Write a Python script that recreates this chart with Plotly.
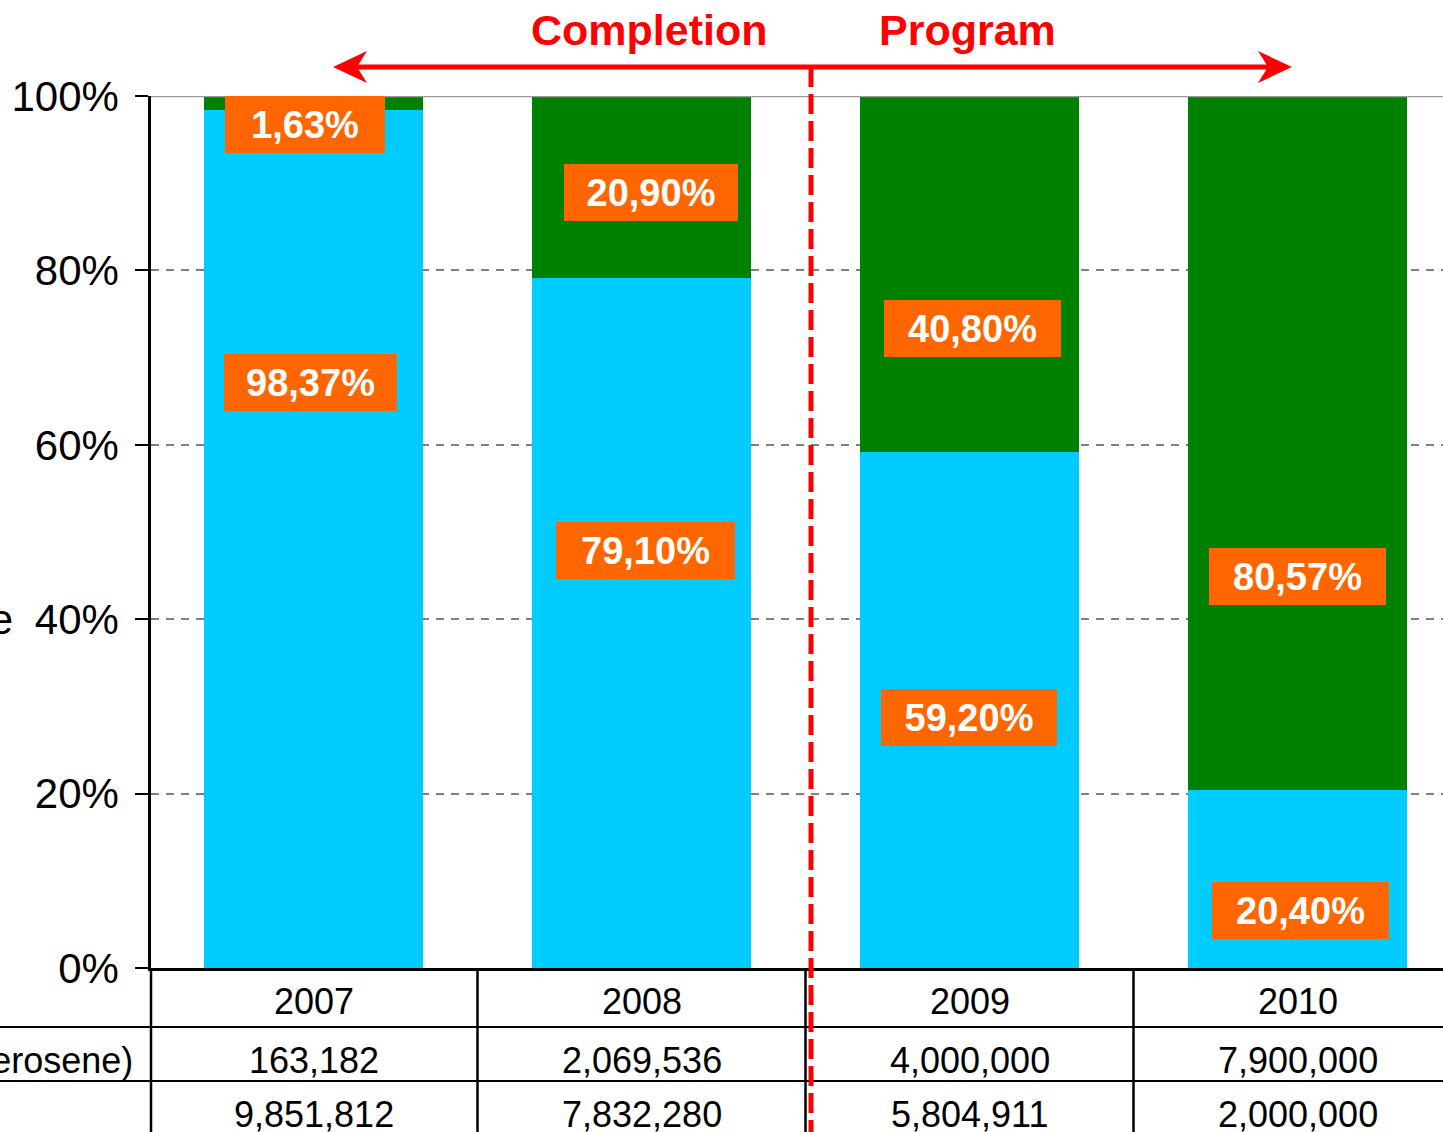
import plotly.graph_objects as go

# Shares of each fuel per year (percent) and volumes for the table below
years = [2007, 2008, 2009, 2010]
share_kerosene = [98.37, 79.10, 59.20, 20.40]
share_lpg = [1.63, 20.90, 40.80, 80.57]
lpg_volume = [163182, 2069536, 4000000, 7900000]
kerosene_volume = [9851812, 7832280, 5804911, 2000000]
row_label_lpg = "LPG (equivalent kerosene)"
y_ticks = [0, 20, 40, 60, 80, 100]

# label box placement (percent position, pixel shift, box width)
lbl_y_kero = [67.2, 47.9, 28.7, 6.65]
lbl_y_lpg = [96.73, 88.9, 73.3, 44.9]
lbl_dx_kero = [-3, 4, -0.5, 3]
lbl_dx_lpg = [-8.5, 9.5, 3, 0]
lbl_w_kero = [173, 179, 176, 177]
lbl_w_lpg = [160, 174, 177, 177]

BLUE = "#00CCFF"
GREEN = "#008000"
ORANGE = "#FF6600"
RED = "#FF0000"
FONT = "Liberation Sans, Arial, Helvetica, sans-serif"

W, H = 1443, 1132
ML, MT, MB = 151, 96, 164
PLOT_W = W - ML
PLOT_H = H - MT - MB
STEP = 328.0                      # px per year
X0 = years[0] - 0.5 + 1.5 / STEP
X1 = X0 + PLOT_W / STEP


def py(p):
    """page pixel row -> paper y"""
    return (H - MB - p) / PLOT_H


def px(p):
    """page pixel column -> paper x"""
    return (p - ML) / PLOT_W


def xd(p):
    """page pixel column -> x data value"""
    return X0 + (p - ML) / STEP


fig = go.Figure()
fig.add_trace(go.Bar(x=years, y=share_kerosene, marker_color=BLUE,
                     marker_line_width=0, width=0.668, name="Kerosene"))
fig.add_trace(go.Bar(x=years, y=share_lpg, marker_color=GREEN,
                     marker_line_width=0, width=0.668, name="LPG"))


def pct(v):
    return f"{v:.2f}".replace(".", ",") + "%"


annotations = []
for i, yr in enumerate(years):
    for val, ly, dx, bw in ((share_kerosene[i], lbl_y_kero[i], lbl_dx_kero[i], lbl_w_kero[i]),
                            (share_lpg[i], lbl_y_lpg[i], lbl_dx_lpg[i], lbl_w_lpg[i])):
        annotations.append(dict(
            x=yr, y=ly, xref="x", yref="y", xshift=dx, text=f"<b>{pct(val)}</b>",
            showarrow=False, bgcolor=ORANGE, borderwidth=0, borderpad=0,
            width=bw, height=57, align="center", valign="middle",
            xanchor="center", yanchor="middle",
            font=dict(family=FONT, size=38, color="white")))

# table: year header and two value rows
TABLE_FONT = dict(family=FONT, size=36, color="black")
for i, yr in enumerate(years):
    for row_y, txt in ((1001, str(yr)),
                       (1060, f"{lpg_volume[i]:,}"),
                       (1114, f"{kerosene_volume[i]:,}")):
        annotations.append(dict(x=yr, y=py(row_y), xref="x", yref="paper", text=txt,
                                xanchor="center", yanchor="middle",
                                showarrow=False, font=TABLE_FONT))
annotations.append(dict(x=px(135), y=py(1060), xref="paper", yref="paper", text=row_label_lpg,
                        xanchor="right", yanchor="middle", showarrow=False, font=TABLE_FONT))
# y axis caption
annotations.append(dict(x=px(15), y=40, xref="paper", yref="y", text="Share",
                        xanchor="right", yanchor="middle", showarrow=False,
                        font=dict(family=FONT, size=42, color="black")))
# programme heading
for cx, txt in ((649, "Completion"), (967.5, "Program")):
    annotations.append(dict(x=xd(cx), y=py(30), xref="x", yref="paper", text=f"<b>{txt}</b>",
                            xanchor="center", yanchor="middle", showarrow=False,
                            font=dict(family=FONT, size=43, color=RED)))

shapes = []
# solid top border at 100%
shapes.append(dict(type="line", xref="paper", yref="y", x0=0, x1=1, y0=100, y1=100,
                   line=dict(color="#9A9A9A", width=2.5)))
# table grid
for yrow in (1027, 1081):
    shapes.append(dict(type="line", xref="paper", yref="paper", x0=px(0), x1=1,
                       y0=py(yrow), y1=py(yrow), line=dict(color="black", width=2)))
shapes.append(dict(type="line", xref="paper", yref="paper", x0=0, x1=0,
                   y0=0, y1=py(H + 10), line=dict(color="black", width=2.5)))
for yr in years[:-1]:
    shapes.append(dict(type="line", xref="x", yref="paper", x0=yr + 0.5, x1=yr + 0.5,
                       y0=0, y1=py(H + 10), line=dict(color="black", width=2.5)))
# programme start marker
shapes.append(dict(type="line", xref="x", yref="paper", x0=xd(811), x1=xd(811),
                   y0=py(67), y1=py(H + 10), line=dict(color=RED, width=5, dash="20px,7px")))
# double-headed arrow
shapes.append(dict(type="line", xref="x", yref="paper", x0=xd(355), x1=xd(1270),
                   y0=py(67), y1=py(67), line=dict(color=RED, width=5)))
for tip, wing, notch in ((333, 367, 357), (1292, 1258, 1268)):
    path = (f"M {xd(tip)},{py(67)} L {xd(wing)},{py(51)} L {xd(notch)},{py(67)} "
            f"L {xd(wing)},{py(83)} Z")
    shapes.append(dict(type="path", xref="x", yref="paper", path=path,
                       fillcolor=RED, line=dict(color=RED, width=0)))

fig.update_layout(
    width=W, height=H, autosize=False,
    margin=dict(l=ML, r=0, t=MT, b=MB, pad=0),
    barmode="stack", bargap=0.33, showlegend=False,
    plot_bgcolor="white", paper_bgcolor="white",
    annotations=annotations, shapes=shapes,
    font=dict(family=FONT, color="black"),
)
fig.update_xaxes(range=[X0, X1], showticklabels=False, ticks="", showgrid=False,
                 zeroline=False, showline=True, linecolor="black", linewidth=2.5)
fig.update_yaxes(range=[0, 100], tickvals=y_ticks, ticktext=[f"{v}%" for v in y_ticks],
                 tickfont=dict(family=FONT, size=42, color="black"),
                 ticks="outside", ticklen=13, tickwidth=2, tickcolor="black",
                 ticklabelstandoff=8,
                 showgrid=True, gridcolor="#808080", gridwidth=1.5, griddash="8px,7px",
                 zeroline=False, showline=True, linecolor="black", linewidth=2.5)

fig.write_html("out.html")
